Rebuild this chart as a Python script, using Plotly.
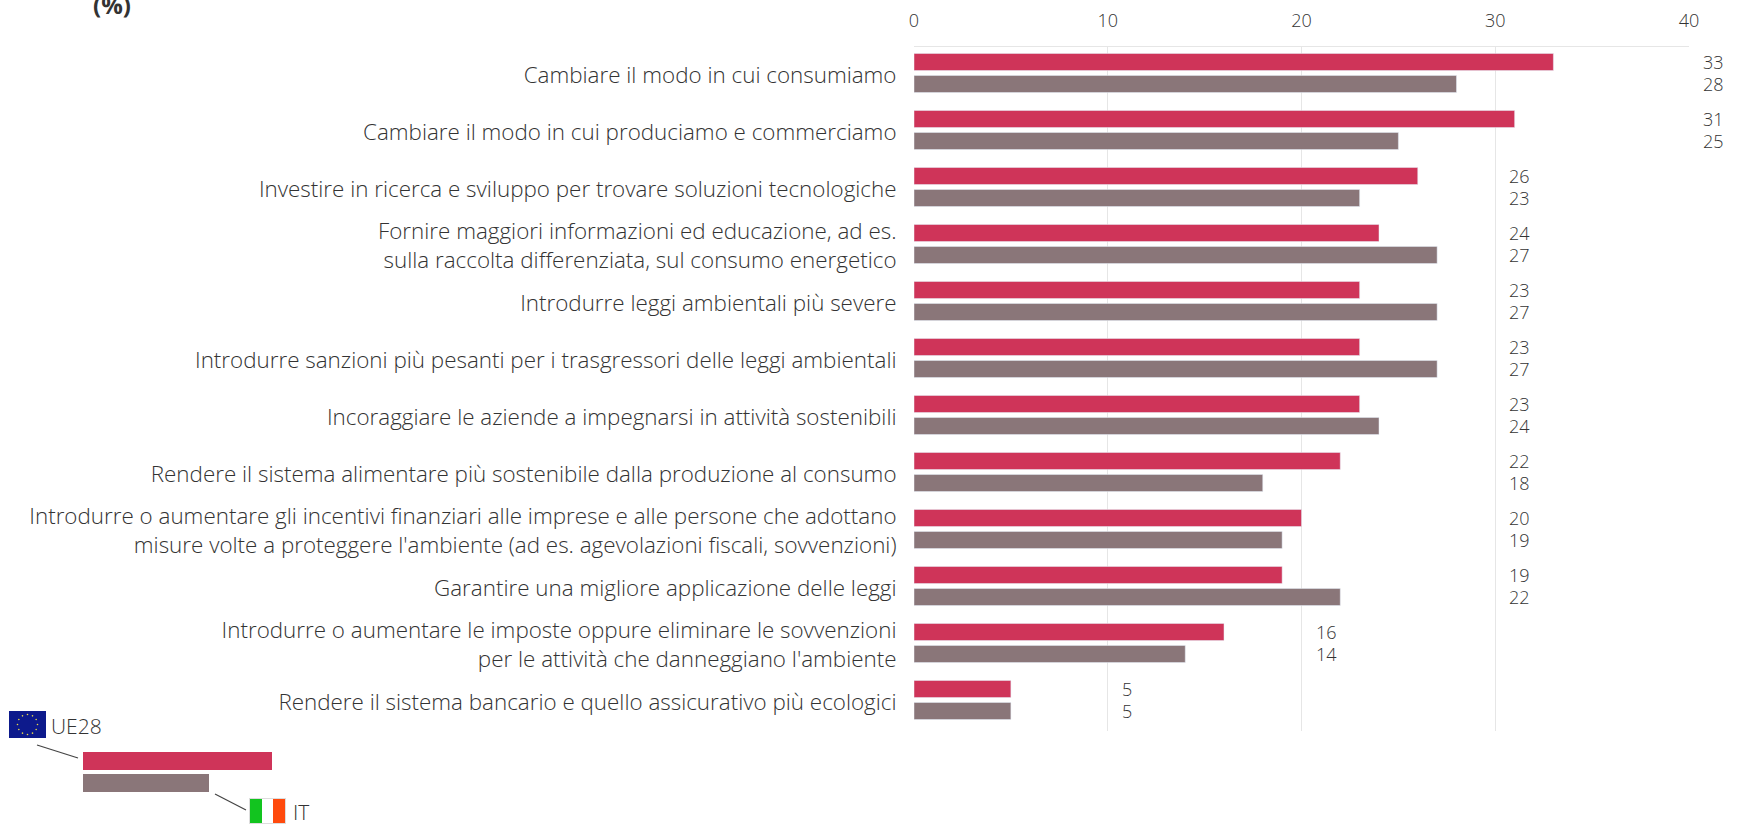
import math
import plotly.graph_objects as go

W, H = 1746, 826

labels = [
    "Cambiare il modo in cui consumiamo",
    "Cambiare il modo in cui produciamo e commerciamo",
    "Investire in ricerca e sviluppo per trovare soluzioni tecnologiche",
    "Fornire maggiori informazioni ed educazione, ad es.<br>sulla raccolta differenziata, sul consumo energetico",
    "Introdurre leggi ambientali più severe",
    "Introdurre sanzioni più pesanti per i trasgressori delle leggi ambientali",
    "Incoraggiare le aziende a impegnarsi in attività sostenibili",
    "Rendere il sistema alimentare più sostenibile dalla produzione al consumo",
    "Introdurre o aumentare gli incentivi finanziari alle imprese e alle persone che adottano<br>misure volte a proteggere l'ambiente (ad es. agevolazioni fiscali, sovvenzioni)",
    "Garantire una migliore applicazione delle leggi",
    "Introdurre o aumentare le imposte oppure eliminare le sovvenzioni<br>per le attività che danneggiano l'ambiente",
    "Rendere il sistema bancario e quello assicurativo più ecologici",
]
ue28 = [33, 31, 26, 24, 23, 23, 23, 22, 20, 19, 16, 5]
italy = [28, 25, 23, 27, 27, 27, 24, 18, 19, 22, 14, 5]
x_ticks = [0, 10, 20, 30, 40]

RED = "#cf3459"
GREY = "#8a7679"
TEXT = "#333333"
GRID = "#e6e6e6"
FONT = "Open Sans"


def px_x(v):
    return v / W


def px_y(v):
    return 1 - v / H


def box(x0, y0, x1, y1, color):
    return dict(type="rect", xref="paper", yref="paper", x0=px_x(x0), x1=px_x(x1),
                y0=px_y(y0), y1=px_y(y1), fillcolor=color, line_width=0, layer="above")


def seg(x0, y0, x1, y1):
    return dict(type="line", xref="paper", yref="paper", x0=px_x(x0), x1=px_x(x1),
                y0=px_y(y0), y1=px_y(y1), line=dict(color="#444444", width=1.2))


positions = list(range(len(labels)))

fig = go.Figure()
fig.add_bar(y=positions, x=ue28, orientation="h", marker_color=RED, name="UE28")
fig.add_bar(y=positions, x=italy, orientation="h", marker_color=GREY, name="IT")

# value labels sit just right of the next gridline after the longer bar
annotations = []
for i in positions:
    col = (max(ue28[i], italy[i]) // 10 + 1) * 10
    for val, shift in ((ue28[i], 11), (italy[i], -11)):
        annotations.append(dict(x=col, y=i, xref="x", yref="y", text=str(val), showarrow=False,
                                xanchor="left", xshift=12, yshift=shift,
                                font=dict(size=18, color=TEXT, family=FONT, weight=300)))

annotations.append(dict(x=px_x(112), y=px_y(5), xref="paper", yref="paper", text="<b>(%)</b>",
                        xanchor="center", yanchor="middle", showarrow=False,
                        font=dict(size=24, color=TEXT, family=FONT)))
annotations.append(dict(x=px_x(49), y=px_y(726), xref="paper", yref="paper", text="UE28", xanchor="left",
                        yanchor="middle", showarrow=False, font=dict(size=21, color=TEXT, family=FONT, weight=300)))
annotations.append(dict(x=px_x(291), y=px_y(812), xref="paper", yref="paper", text="IT", xanchor="left",
                        yanchor="middle", showarrow=False, font=dict(size=21, color=TEXT, family=FONT, weight=300)))

# legend key: two sample bars, leader lines and flags
shapes = [
    box(83, 752, 272, 770, RED),
    box(83, 774, 209, 792, GREY),
    seg(37, 745, 78, 758),
    seg(215, 794, 246, 810),
    box(9, 711, 46, 738, "#0d1a8c"),
    box(249, 798, 286, 824, "#dddddd"),
    box(250, 799, 262, 823, "#12c41f"),
    box(262, 799, 273, 823, "#ffffff"),
    box(273, 799, 285, 823, "#ff4a0d"),
]
for k in range(12):
    a = k * math.pi / 6
    cx, cy = 27.5 + 10 * math.cos(a), 724.5 + 10 * math.sin(a)
    shapes.append(dict(type="circle", xref="paper", yref="paper", x0=px_x(cx - 0.8), x1=px_x(cx + 0.8),
                       y0=px_y(cy - 0.8), y1=px_y(cy + 0.8), fillcolor="#e8d84a", line_width=0, layer="above"))

fig.update_layout(
    width=W,
    height=H,
    margin=dict(l=0, r=0, t=0, b=0, autoexpand=False),
    paper_bgcolor="white",
    plot_bgcolor="white",
    showlegend=False,
    barmode="group",
    bargap=0.228,
    bargroupgap=0.227,
    font=dict(family=FONT, color=TEXT),
    annotations=annotations,
    shapes=shapes,
    xaxis=dict(
        domain=[914 / W, 1689 / W],
        side="top",
        range=[0, 40],
        tickvals=x_ticks,
        showgrid=True,
        gridcolor=GRID,
        showline=True,
        linecolor=GRID,
        zeroline=False,
        ticks="",
        ticklabelstandoff=12,
        tickfont=dict(size=18, color=TEXT, family=FONT, weight=300),
    ),
    yaxis=dict(
        domain=[1 - 731 / H, 1 - 47 / H],
        range=[11.544, -0.456],
        tickvals=[p + 0.03 for p in positions],
        ticktext=labels,
        showgrid=False,
        zeroline=False,
        ticks="outside",
        ticklen=12,
        tickcolor="white",
        tickfont=dict(size=22.4, color=TEXT, family=FONT, weight=300),
    ),
)

fig.write_html("out.html", config={"displayModeBar": False}, post_script="document.body.style.margin='0';")
